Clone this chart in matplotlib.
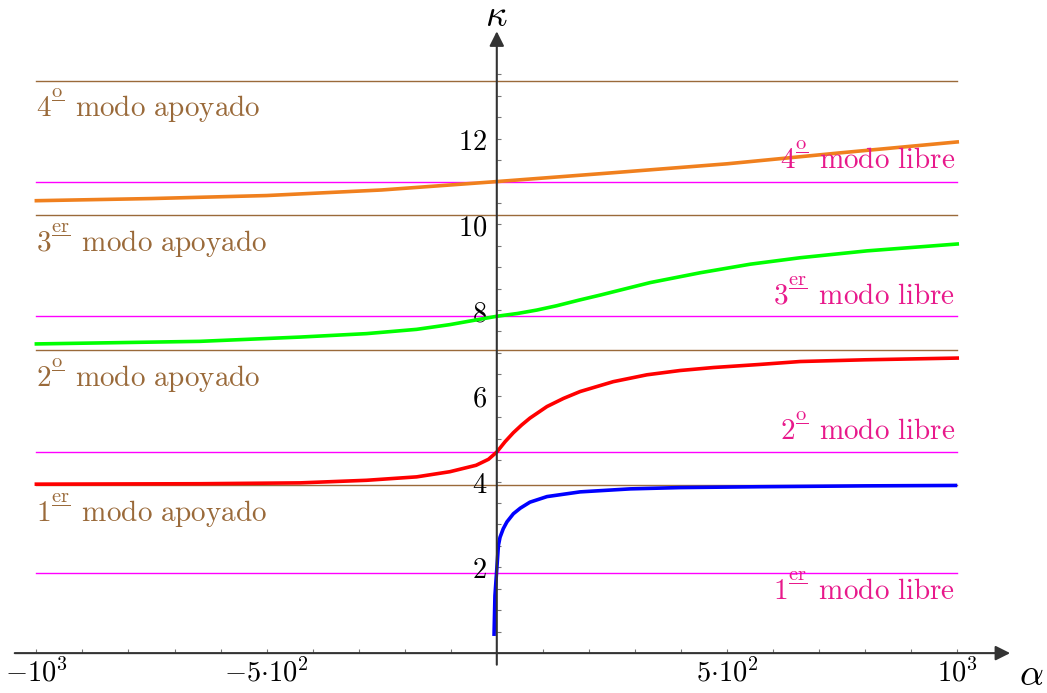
import numpy as np
import matplotlib.pyplot as plt
from matplotlib.ticker import FixedLocator, FixedFormatter

plt.rcParams['mathtext.fontset'] = 'cm'

# horizontal reference levels
kappa_apoyado = [3.927, 7.069, 10.210, 13.352]
kappa_libre = [1.875, 4.694, 7.855, 10.996]
ordinal_sup = ['er', 'o', 'er', 'o']

# curves (alpha, kappa)
blue_a = [-6, -4, 0, 3.5, 7, 14, 22, 36, 51, 72, 109, 181, 290, 398, 569, 800, 1000]
blue_k = [0.40, 1.34, 1.96, 2.51, 2.70, 2.90, 3.06, 3.25, 3.38, 3.52, 3.65, 3.76, 3.83, 3.86, 3.88,
          3.90, 3.91]

red_a = [-1000, -645, -427, -283, -174, -102, -45, -18, 0, 18, 36, 54, 72, 109, 145, 181, 253, 326,
         398, 471, 569, 659, 800, 1000]
red_k = [3.94, 3.95, 3.97, 4.03, 4.11, 4.23, 4.38, 4.52, 4.69, 4.93, 5.14, 5.32, 5.48, 5.75, 5.94,
         6.10, 6.33, 6.49, 6.59, 6.66, 6.73, 6.80, 6.84, 6.88]

green_a = [-1000, -645, -427, -283, -174, -102, -29, 0, 45, 87, 130, 178, 225, 333, 442, 551, 659,
           804, 1000]
green_k = [7.21, 7.27, 7.37, 7.45, 7.55, 7.66, 7.80, 7.855, 7.92, 8.00, 8.10, 8.23, 8.35, 8.64, 8.87,
           9.07, 9.22, 9.38, 9.54]

orange_a = [-1000, -750, -500, -250, 0, 250, 500, 750, 1000]
orange_k = [10.55, 10.60, 10.67, 10.80, 10.996, 11.20, 11.41, 11.67, 11.92]

xtick_pos = [-1000, -500, 500, 1000]
xtick_lab = [r'$-10^3$', r'$-5{\cdot}10^2$', r'$5{\cdot}10^2$', r'$10^3$']
ytick_pos = [2, 4, 6, 8, 10, 12]
ytick_lab = [r'$%d$' % v for v in ytick_pos]

brown = '#9a6a3a'
pink_line = '#ff00ff'
pink_text = '#e8198b'
axcol = '#333333'

fig = plt.figure(figsize=(10.47, 6.93), dpi=100)
ax = fig.add_axes([0, 0, 1, 1])
ax.set_xlim(-1079, 1195)
ax.set_ylim(-0.93, 15.23)

for k in kappa_apoyado:
    ax.plot([-1000, 1000], [k, k], color=brown, lw=1.0, zorder=1)
for k in kappa_libre:
    ax.plot([-1000, 1000], [k, k], color=pink_line, lw=1.0, zorder=1)

ax.plot(blue_a, blue_k, color='#0000ff', lw=2.6, zorder=2, solid_capstyle='butt')
ax.plot(red_a, red_k, color='#ff0000', lw=2.6, zorder=2)
ax.plot(green_a, green_k, color='#00ff00', lw=2.6, zorder=2)
ax.plot(orange_a, orange_k, color='#f0801e', lw=2.6, zorder=2)


def ordinal(n, sup):
    # underlined superscript, as in 1er / 2o
    return r'%d^{\genfrac{}{}{0.9}{0}{\mathrm{%s}}{\,}}' % (n, sup)


# labels
for i, k in enumerate(kappa_apoyado):
    s = r'$\mathrm{%s\ modo\ apoyado}$' % ordinal(i + 1, ordinal_sup[i])
    ax.text(-1000, k - 0.6, s, color=brown, fontsize=21, ha='left', va='center', zorder=3)
for i, k in enumerate(kappa_libre):
    s = r'$\mathrm{%s\ modo\ libre}$' % ordinal(i + 1, ordinal_sup[i])
    dy = -0.39 if i == 0 else 0.52
    ax.text(996, k + dy, s, color=pink_text, fontsize=21, ha='right', va='center', zorder=3)

# axes through the origin
for sp in ['top', 'right']:
    ax.spines[sp].set_visible(False)
ax.spines['left'].set_position(('data', 0))
ax.spines['bottom'].set_position(('data', 0))
ax.spines['left'].set_color('none')
ax.spines['bottom'].set_color('none')
ax.annotate('', xy=(1115, 0), xytext=(-1047, 0),
            arrowprops=dict(arrowstyle='-|>', color=axcol, lw=1.5, mutation_scale=22, shrinkA=0, shrinkB=0),
            zorder=4)
ax.annotate('', xy=(0, 14.5), xytext=(0, -0.27),
            arrowprops=dict(arrowstyle='-|>', color=axcol, lw=1.5, mutation_scale=22, shrinkA=0, shrinkB=0),
            zorder=4)

ax.xaxis.set_major_locator(FixedLocator(xtick_pos))
ax.xaxis.set_major_formatter(FixedFormatter(xtick_lab))
ax.xaxis.set_minor_locator(FixedLocator([v for v in range(-1000, 1001, 100) if v != 0]))
ax.yaxis.set_major_locator(FixedLocator(ytick_pos))
ax.yaxis.set_major_formatter(FixedFormatter(ytick_lab))
ax.yaxis.set_minor_locator(FixedLocator(np.arange(0.5, 13.6, 0.5)))
ax.tick_params(which='both', direction='in', length=3, width=0.8, color='#777777', labelsize=20.5)
ax.tick_params(axis='x', pad=4)
ax.tick_params(axis='y', pad=7)

ax.text(0, 14.85, r'$\kappa$', fontsize=27, ha='center', va='center')
ax.text(1160, -0.5, r'$\alpha$', fontsize=27, ha='center', va='center')

fig.savefig('out.png', dpi=100)
